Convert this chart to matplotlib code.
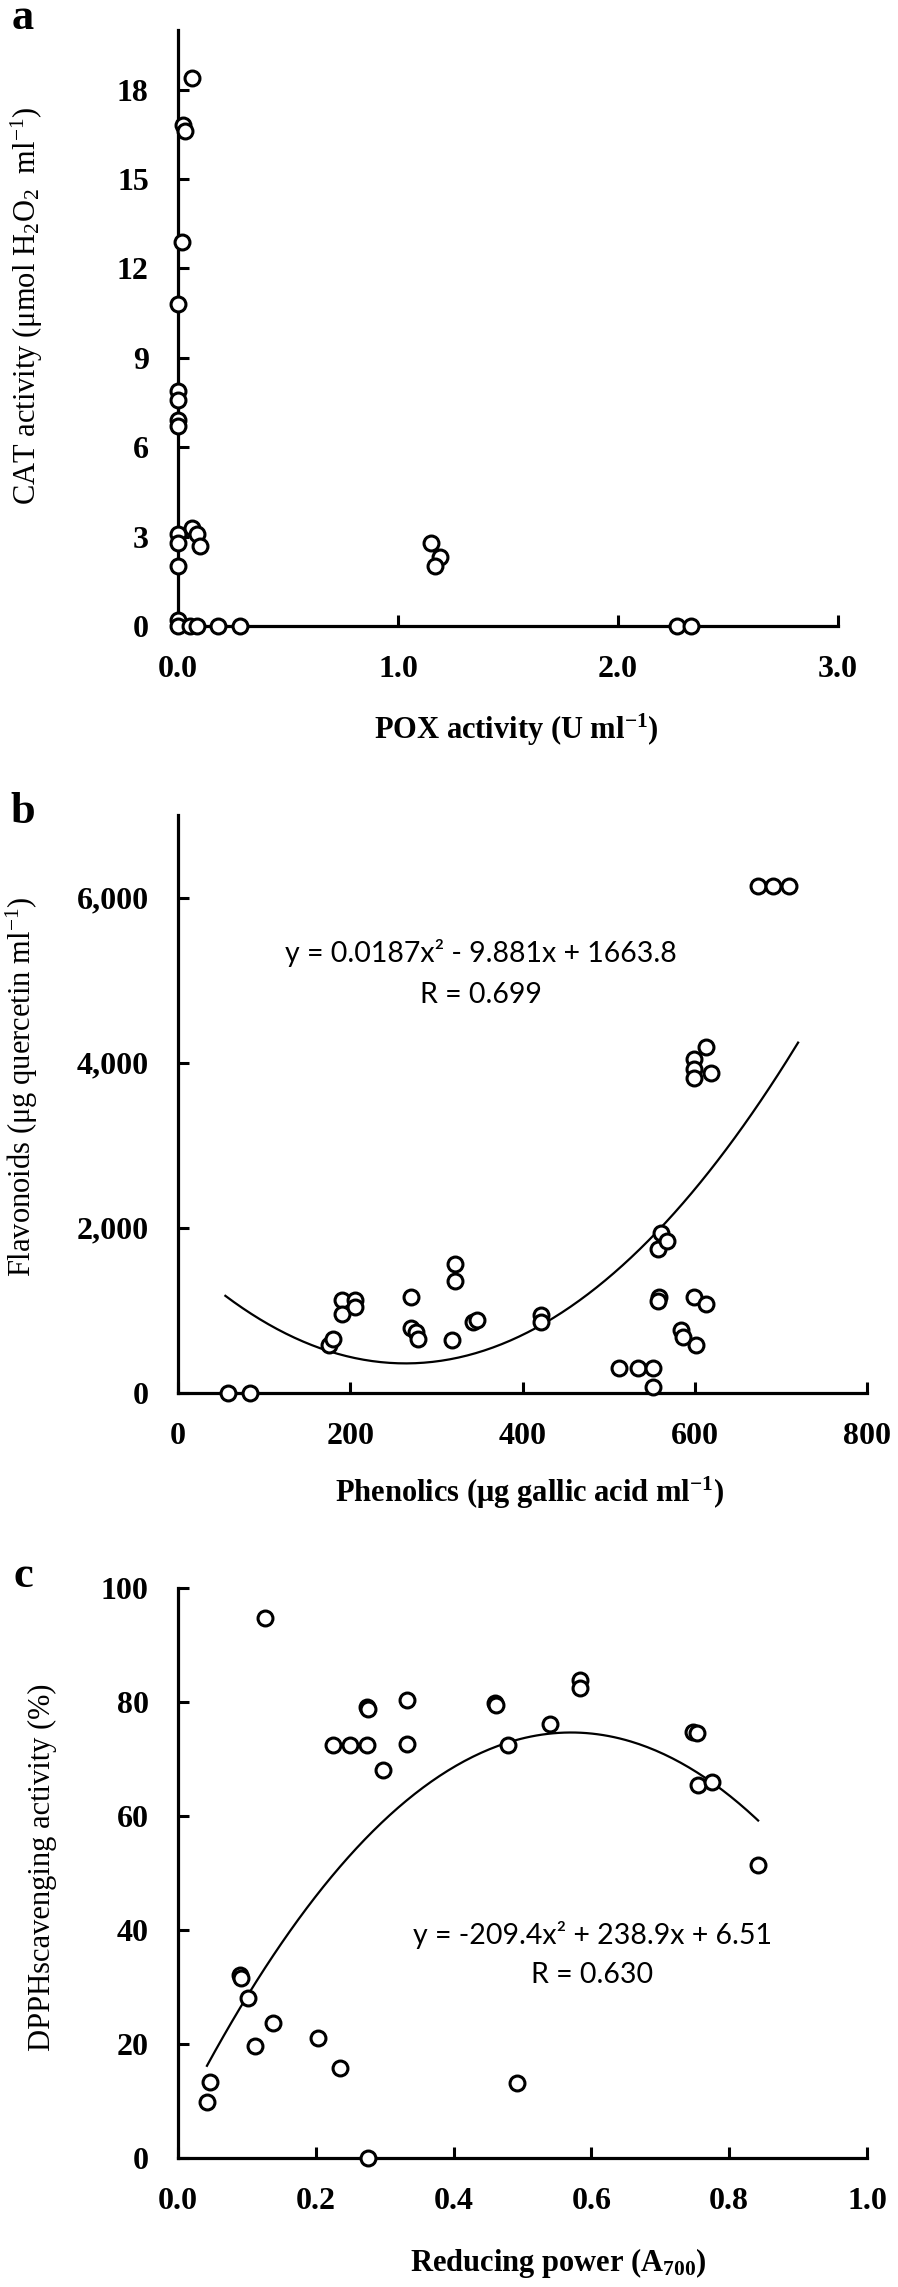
import numpy as np
import matplotlib
matplotlib.use("Agg")
import matplotlib.pyplot as plt
from matplotlib.ticker import FixedLocator, FuncFormatter

plt.rcParams.update({
    'font.family': 'Liberation Serif',
    'mathtext.fontset': 'custom',
    'mathtext.rm': 'Liberation Serif',
    'mathtext.it': 'Liberation Serif:italic',
    'mathtext.bf': 'Liberation Serif:bold',
})

# panel a: POX vs CAT
pox = [0.064, 0.023, 0.030, 0.020, 0.000, 0.000, 0.000, 0.000, 0.000, 0.000, 0.000,
       0.000, 0.064, 0.085, 0.100, 0.000, 0.000, 0.055, 0.085, 0.180, 0.280,
       1.150, 1.190, 1.170, 2.270, 2.330]
cat = [18.4, 16.8, 16.6, 12.9, 10.8, 7.9, 7.6, 6.9, 6.7, 3.1, 2.8,
       2.0, 3.3, 3.1, 2.7, 0.2, 0.0, 0.0, 0.0, 0.0, 0.0,
       2.8, 2.3, 2.0, 0.0, 0.0]

# panel b: phenolics vs flavonoids
phenolics = [58, 84, 175, 180, 190, 190, 206, 206, 271, 271, 276, 279, 318, 322, 322,
             343, 347, 421, 421, 512, 534, 551, 551, 558, 557, 557, 561, 568, 599,
             613, 584, 586, 601, 613, 599, 599, 619, 599, 673, 691, 709]
flavonoids = [0, 0, 580, 650, 1130, 960, 1130, 1040, 1160, 790, 735, 660, 640, 1565, 1360,
              855, 880, 940, 855, 300, 300, 300, 70, 1160, 1120, 1745, 1940, 1845, 1160,
              1080, 760, 680, 580, 4190, 4050, 3920, 3870, 3810, 6145, 6145, 6145]
fit_b = [0.0187, -9.881, 1663.8]
fit_b_range = [55, 720]

# panel c: reducing power vs DPPH
reducing = [0.126, 0.274, 0.276, 0.332, 0.225, 0.250, 0.274, 0.332, 0.298, 0.460, 0.462,
            0.540, 0.479, 0.583, 0.583, 0.748, 0.753, 0.755, 0.775, 0.842, 0.090, 0.092,
            0.102, 0.138, 0.112, 0.203, 0.235, 0.046, 0.042, 0.276, 0.492]
dpph = [94.7, 79.1, 78.8, 80.4, 72.5, 72.5, 72.5, 72.6, 68.1, 79.8, 79.4,
        76.1, 72.4, 83.9, 82.5, 74.7, 74.5, 65.4, 66.0, 51.4, 32.1, 31.5,
        28.1, 23.7, 19.6, 21.0, 15.8, 13.3, 9.8, 0.0, 13.2]
fit_c = [-209.4, 238.9, 6.51]
fit_c_range = [0.042, 0.842]

W, H = 898, 2287
fig = plt.figure(figsize=(W / 100, H / 100), dpi=100)


def box(l, r, t, b):
    return [l / W, 1 - b / H, (r - l) / W, (b - t) / H]


def style(ax, xlim, ylim, xticks, yticks, xfmt, yfmt):
    for s in ['top', 'right']:
        ax.spines[s].set_visible(False)
    for s in ['left', 'bottom']:
        ax.spines[s].set_linewidth(2.3)
    ax.set_xlim(*xlim)
    ax.set_ylim(*ylim)
    ax.xaxis.set_major_locator(FixedLocator(xticks))
    ax.yaxis.set_major_locator(FixedLocator(yticks))
    ax.xaxis.set_major_formatter(FuncFormatter(xfmt))
    ax.yaxis.set_major_formatter(FuncFormatter(yfmt))
    ax.tick_params(direction='in', length=8, width=2.2, labelsize=23, pad=21)
    for lab in ax.get_xticklabels() + ax.get_yticklabels():
        lab.set_fontweight('bold')


def dots(ax, x, y):
    ax.scatter(x, y, s=115, facecolors='white', edgecolors='black', linewidths=2.2,
               zorder=3, clip_on=False)


def labels(ax, xl, yl, xpos, ypos):
    ax.set_xlabel(xl, fontsize=22, fontweight='bold')
    ax.set_ylabel(yl, fontsize=22)
    ax.xaxis.label.set_va('center')
    ax.yaxis.label.set_va('center')
    ax.xaxis.set_label_coords(*xpos)
    ax.yaxis.set_label_coords(*ypos)


# ---- a ----
ax1 = fig.add_axes(box(178, 838, 30, 626))
dots(ax1, pox, cat)
style(ax1, (0, 3), (0, 20), [0, 1, 2, 3], list(range(0, 19, 3)),
      lambda v, p: f"{v:.1f}", lambda v, p: f"{v:.0f}")
labels(ax1, r"POX activity (U ml$^{\mathbf{-1}}$)",
       r"CAT activity (μmol H$_2$O$_2$  ml$^{-1}$)", (0.512, -0.1745), (-0.229, 0.537))

# ---- b ----
ax2 = fig.add_axes(box(178, 867, 815, 1393))
xb = np.linspace(fit_b_range[0], fit_b_range[1], 200)
ax2.plot(xb, np.polyval(fit_b, xb), color='black', lw=1.6, zorder=2)
dots(ax2, phenolics, flavonoids)
style(ax2, (0, 800), (0, 7000), [0, 200, 400, 600, 800], [0, 2000, 4000, 6000],
      lambda v, p: f"{v:.0f}", lambda v, p: f"{v:,.0f}")
labels(ax2, r"Phenolics (μg gallic acid ml$^{\mathbf{-1}}$)",
       r"Flavonoids (μg quercetin ml$^{-1}$)", (0.511, -0.173), (-0.2264, 0.529))
ax2.text(0.44, 0.761, "y = 0.0187x² - 9.881x + 1663.8", transform=ax2.transAxes,
         ha='center', va='center', fontsize=20.5, family='Lato')
ax2.text(0.44, 0.689, "R = 0.699", transform=ax2.transAxes,
         ha='center', va='center', fontsize=20.5, family='Lato')

# ---- c ----
ax3 = fig.add_axes(box(178, 867, 1588, 2158))
xc = np.linspace(fit_c_range[0], fit_c_range[1], 200)
ax3.plot(xc, np.polyval(fit_c, xc), color='black', lw=1.6, zorder=2)
dots(ax3, reducing, dpph)
style(ax3, (0, 1), (0, 100), [0, 0.2, 0.4, 0.6, 0.8, 1.0], list(range(0, 101, 20)),
      lambda v, p: f"{v:.1f}", lambda v, p: f"{v:.0f}")
labels(ax3, r"Reducing power (A$_{\mathbf{700}}$)",
       "DPPHscavenging activity (%)", (0.5515, -0.184), (-0.197, 0.5105))
ax3.text(0.601, 0.391, "y = -209.4x² + 238.9x + 6.51", transform=ax3.transAxes,
         ha='center', va='center', fontsize=20.5, family='Lato')
ax3.text(0.601, 0.321, "R = 0.630", transform=ax3.transAxes,
         ha='center', va='center', fontsize=20.5, family='Lato')

for letter, py in [('a', 29), ('b', 823), ('c', 1587)]:
    fig.text(23 / W, 1 - py / H, letter, fontsize=32, fontweight='bold',
             ha='center', va='baseline')

fig.savefig("out.png", dpi=100, facecolor='white')
